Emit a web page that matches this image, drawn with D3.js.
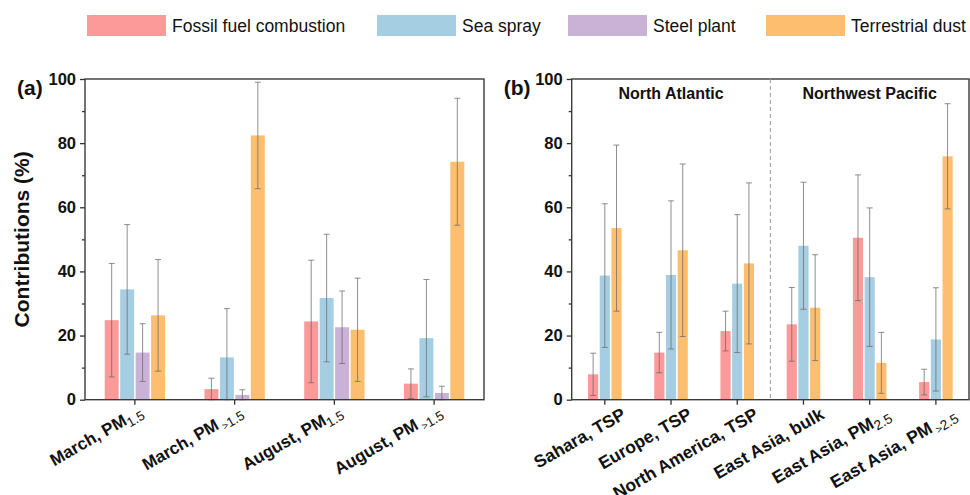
<!DOCTYPE html>
<html><head><meta charset="utf-8">
<script src="https://cdn.jsdelivr.net/npm/d3@7"></script>
<style>
body{margin:0;background:#fff;}
svg{font-family:"Liberation Sans",Arial,sans-serif;}
</style></head>
<body><svg id="c" width="970" height="495"></svg>
<script>
// ---------- data ----------
const seriesNames = ["Fossil fuel combustion","Sea spray","Steel plant","Terrestrial dust"];
const seriesColors = ["#FB9A99","#A6CEE3","#CAB2D6","#FDBF6F"];
const yTicks = [0,20,40,60,80,100];

// panel (a)
const catsA = [
  {main:"March, PM", gt:"", sub:"1.5"},
  {main:"March, PM", gt:" >", sub:"1.5"},
  {main:"August, PM", gt:"", sub:"1.5"},
  {main:"August, PM", gt:" >", sub:"1.5"}
];
const fossilA = [24.8, 3.3, 24.4, 5.0];
const fossilErrA = [17.7, 3.4, 19.1, 4.6];
const seaA = [34.4, 13.2, 31.7, 19.2];
const seaErrA = [20.2, 15.2, 19.9, 18.3];
const steelA = [14.7, 1.5, 22.6, 2.1];
const steelErrA = [9.0, 1.6, 11.3, 2.1];
const dustA = [26.3, 82.4, 21.8, 74.2];
const dustErrA = [17.4, 16.6, 16.1, 19.8];

// panel (b)
const catsB = [
  {main:"Sahara, TSP", gt:"", sub:""},
  {main:"Europe, TSP", gt:"", sub:""},
  {main:"North America, TSP", gt:"", sub:""},
  {main:"East Asia, bulk", gt:"", sub:""},
  {main:"East Asia, PM", gt:"", sub:"2.5"},
  {main:"East Asia, PM", gt:" >", sub:"2.5"}
];
const fossilB = [7.9, 14.7, 21.4, 23.5, 50.5, 5.5];
const fossilErrB = [6.6, 6.3, 6.2, 11.5, 19.6, 4.0];
const seaB = [38.7, 38.9, 36.2, 48.0, 38.2, 18.8];
const seaErrB = [22.4, 23.1, 21.5, 19.8, 21.6, 16.1];
const dustB = [53.5, 46.6, 42.5, 28.7, 11.5, 75.9];
const dustErrB = [25.9, 26.9, 25.1, 16.5, 9.5, 16.4];
const regionLabels = ["North Atlantic","Northwest Pacific"];

// ---------- drawing ----------
const svg = d3.select("#c");
const plotTop = 79, plotBottom = 399.7;
const y = d3.scaleLinear().domain([0,100]).range([plotBottom, plotTop]);

function panel(opts){
  const {left,right,cats,series,letter,groupFrac} = opts;
  const g = svg.append("g");
  const x0 = d3.scaleBand().domain(d3.range(cats.length)).range([left,right]).padding(0);
  const gw = x0.bandwidth()*groupFrac;
  const x1 = d3.scaleBand().domain(d3.range(series.length)).range([0,gw]).padding(0);
  const off = (x0.bandwidth()-gw)/2;

  series.forEach((s,si)=>{
    g.selectAll(null).data(s.vals).enter().append("rect")
      .attr("x",(d,i)=>x0(i)+off+x1(si)+0.75)
      .attr("width",x1.bandwidth()-1.5)
      .attr("y",d=>y(d))
      .attr("height",d=>y(0)-y(d))
      .attr("fill",s.color);
  });
  series.forEach((s,si)=>{
    s.vals.forEach((v,i)=>{
      const cx = x0(i)+off+x1(si)+x1.bandwidth()/2;
      const hi = v+s.err[i], lo = Math.max(0,v-s.err[i]);
      const eg = g.append("g").attr("stroke","#6a6a6a").attr("stroke-opacity",0.75).attr("stroke-width",1);
      eg.append("line").attr("x1",cx).attr("x2",cx).attr("y1",y(hi)).attr("y2",y(lo));
      eg.append("line").attr("x1",cx-3).attr("x2",cx+3).attr("y1",y(hi)).attr("y2",y(hi));
      eg.append("line").attr("x1",cx-3).attr("x2",cx+3).attr("y1",y(lo)).attr("y2",y(lo));
    });
  });

  const ya = d3.axisLeft(y).tickValues(yTicks).tickSize(5).tickPadding(4);
  const yg = g.append("g").attr("transform",`translate(${left},0)`).call(ya);
  yg.select(".domain").remove();
  yg.selectAll("line").attr("stroke","#333").attr("stroke-width",1.3);
  yg.selectAll("text").attr("font-size",16.5).attr("font-weight","bold").attr("fill","#111");
  const ym = d3.axisLeft(y).tickValues([10,30,50,70,90]).tickSize(3).tickFormat("");
  const ymg = g.append("g").attr("transform",`translate(${left},0)`).call(ym);
  ymg.select(".domain").remove();
  ymg.selectAll("line").attr("stroke","#333").attr("stroke-width",1.3);

  const xa = d3.axisBottom(x0).tickSize(5).tickFormat("");
  const xg = g.append("g").attr("transform",`translate(0,${plotBottom})`).call(xa);
  xg.select(".domain").remove();
  xg.selectAll("line").attr("stroke","#333").attr("stroke-width",1.3);

  cats.forEach((c,i)=>{
    const cx = x0(i)+x0.bandwidth()/2;
    const t = g.append("text")
      .attr("transform",`translate(${cx+opts.lx},${plotBottom+opts.ly}) rotate(-30)`)
      .attr("text-anchor","end")
      .attr("font-size",opts.fs).attr("font-weight","bold").attr("fill","#111");
    t.append("tspan").text(c.main);
    let dy = 4;
    if(c.gt){
      t.append("tspan").attr("font-size",opts.fs*0.6).attr("font-weight","normal").attr("dy",dy).text(c.gt);
      dy = 0;
    }
    if(c.sub){
      t.append("tspan").attr("font-size",opts.fs*0.78).attr("font-weight","normal").attr("dy",dy).text(c.sub);
    }
  });

  g.append("rect").attr("x",left).attr("y",plotTop).attr("width",right-left).attr("height",plotBottom-plotTop)
    .attr("fill","none").attr("stroke","#3a3a3a").attr("stroke-width",1.4);

  g.append("text").attr("x",left-68).attr("y",plotTop+16).attr("font-size",21).attr("font-weight","bold")
    .attr("fill","#111").text(letter);
  return {x0};
}

panel({left:85,right:484,cats:catsA,letter:"(a)",groupFrac:0.62,lx:9,ly:15,fs:17,
  series:[
    {vals:fossilA,err:fossilErrA,color:seriesColors[0]},
    {vals:seaA,err:seaErrA,color:seriesColors[1]},
    {vals:steelA,err:steelErrA,color:seriesColors[2]},
    {vals:dustA,err:dustErrA,color:seriesColors[3]}
  ]});

const pb = panel({left:571.7,right:969,cats:catsB,letter:"(b)",groupFrac:0.53,lx:22,ly:18,fs:17.5,
  series:[
    {vals:fossilB,err:fossilErrB,color:seriesColors[0]},
    {vals:seaB,err:seaErrB,color:seriesColors[1]},
    {vals:dustB,err:dustErrB,color:seriesColors[3]}
  ]});

const bx = pb.x0;
const divX = bx(3);
svg.append("line").attr("x1",divX).attr("x2",divX).attr("y1",plotTop).attr("y2",plotBottom)
  .attr("stroke","#999").attr("stroke-width",1).attr("stroke-dasharray","4,3");
[1,4].forEach((ci,k)=>{
  svg.append("text").attr("x",bx(ci)+bx.bandwidth()/2).attr("y",plotTop+20)
    .attr("text-anchor","middle").attr("font-size",16).attr("font-weight","bold").attr("fill","#111")
    .text(regionLabels[k]);
});

svg.append("text").attr("transform",`translate(29,${(plotTop+plotBottom)/2}) rotate(-90)`)
  .attr("text-anchor","middle").attr("font-size",21).attr("font-weight","bold").attr("fill","#111")
  .text("Contributions (%)");

const legX = [87, 377, 568, 766];
seriesNames.forEach((n,i)=>{
  svg.append("rect").attr("x",legX[i]).attr("y",15).attr("width",79).attr("height",21).attr("fill",seriesColors[i]);
  svg.append("text").attr("x",legX[i]+85).attr("y",31.5).attr("font-size",17.5).attr("fill","#111").text(n);
});
</script></body></html>
